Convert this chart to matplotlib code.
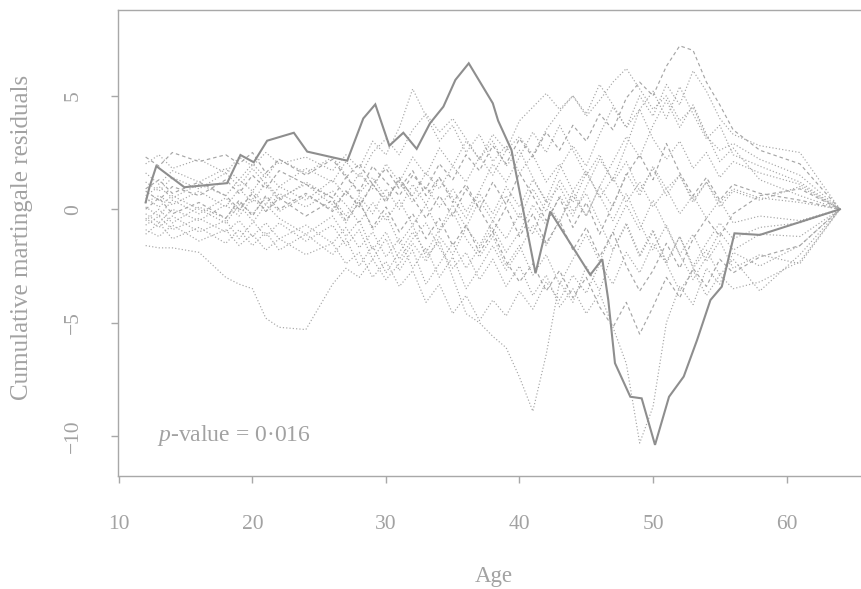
import matplotlib
matplotlib.use("Agg")
import matplotlib.pyplot as plt

plt.rcParams['font.family'] = ['Liberation Serif', 'DejaVu Serif']
plt.rcParams['mathtext.fontset'] = 'custom'
plt.rcParams['mathtext.rm'] = 'Liberation Serif'
plt.rcParams['mathtext.it'] = 'Liberation Serif:italic'

# ---------------- data ----------------
# observed cumulative martingale residual process
obs_age = [12.0, 12.3, 12.8, 14.9, 18.1, 19.1, 20.1, 21.1, 23.1, 24.1, 27.1, 28.3, 29.2,
           30.25, 31.3, 32.3, 33.3, 34.3, 35.2, 36.2, 38.0, 38.4, 39.4, 41.2, 42.3, 45.3,
           46.2, 46.65, 47.15, 48.3, 49.15, 50.15, 51.2, 52.3, 53.3, 54.3, 55.15, 56.1,
           58.0, 64.0]
obs_res = [0.3, 1.0, 1.9, 0.97, 1.15, 2.39, 2.07, 3.02, 3.37, 2.54, 2.14, 4.0, 4.62,
           2.80, 3.37, 2.66, 3.79, 4.52, 5.70, 6.43, 4.67, 3.90, 2.61, -2.82, -0.1, -2.89,
           -2.20, -4.0, -6.78, -8.26, -8.33, -10.38, -8.26, -7.37, -5.76, -4.0, -3.41, -1.06,
           -1.13, 0.0]

# ages at which the simulated processes are shown
sim_age = [12, 13, 14, 16, 18, 19, 20, 21, 22, 24, 26, 27, 28, 29, 30, 31, 32, 33, 34, 35,
           36, 37, 38, 39, 40, 41, 42, 43, 44, 45, 46, 47, 48, 49, 50, 51, 52, 53, 54, 55,
           56, 58, 61, 64]

sim_a = [-1.6, -1.7, -1.7, -1.9, -3.0, -3.3, -3.5, -4.8, -5.2, -5.3, -3.3, -2.6, -3.0, -2.2,
         -3.1, -2.4, -1.5, -2.3, -1.2, -2.0, -0.8, -1.6, -0.5, -1.3, -0.2, -1.1, 0.4, -0.6,
         0.8, -0.3, 1.0, 0.1, 1.6, 0.6, 1.9, 0.9, 1.5, 0.4, 1.2, 0.3, 0.9, 0.5, 0.3, 0.0]
sim_b = [0.3, 0.6, 0.2, 0.8, 0.1, 0.9, 0.3, 1.2, 0.5, 1.1, 0.2, -0.6, 0.4, -0.9, -0.2, -1.5,
         -0.7, -2.1, -1.4, -3.0, -4.6, -5.0, -5.6, -6.1, -7.4, -8.9, -6.4, -3.2, -4.1, -2.5,
         -3.6, -1.8, -0.6, -2.0, -0.9, -2.4, -1.2, -2.6, -1.8, -2.9, -2.2, -3.6, -2.0, 0.0]
sim_c = [-0.4, -0.8, -0.3, -1.0, -0.5, -1.3, -0.6, 0.2, -0.4, -1.1, -0.3, -1.2, -0.5, -1.8,
         -1.0, -2.2, -1.3, -0.6, -1.7, -2.6, -1.9, -3.1, -2.2, -3.4, -2.5, -3.8, -2.9, -4.3,
         -3.5, -4.6, -3.7, -5.2, -6.8, -10.3, -8.7, -5.0, -3.4, -4.2, -2.6, -3.3, -1.9, -2.5,
         -1.6, 0.0]
sim_d = [0.8, 0.4, 1.0, 0.6, 1.3, 0.7, 1.5, 0.9, 1.7, 1.1, 0.5, 1.4, 0.8, 1.9, 1.2, 0.6, 1.5,
         0.9, 2.0, 1.3, 2.4, 1.7, 2.8, 2.0, 3.1, 2.3, 3.4, 2.6, 3.7, 3.0, 4.2, 3.5, 4.9, 5.6,
         5.0, 6.3, 7.2, 7.0, 5.6, 4.6, 3.5, 2.6, 2.0, 0.0]
sim_e = [2.0, 2.4, 1.8, 2.2, 1.6, 2.3, 1.9, 2.5, 2.0, 2.3, 1.7, 2.4, 1.8, 3.0, 2.4, 3.6, 5.3,
         4.1, 3.0, 3.7, 2.5, 3.3, 2.1, 2.8, 1.6, 2.4, 1.2, 2.0, 0.8, 1.7, 0.5, 1.4, 0.3, 1.2,
         0.1, 0.9, -0.2, 0.6, -0.4, 0.4, -0.6, -0.3, -0.5, 0.0]
sim_f = [0.1, -0.3, 0.4, -0.2, 0.5, -0.1, 0.8, 0.2, 1.0, 0.4, 1.3, 0.6, 1.6, 0.9, 2.0, 1.2,
         2.3, 1.5, 2.7, 1.9, 3.0, 2.2, 3.3, 2.6, 3.9, 4.5, 5.1, 4.4, 5.0, 4.1, 4.8, 5.6, 6.2,
         5.3, 4.4, 5.0, 3.9, 4.5, 3.2, 2.6, 2.9, 2.2, 1.5, 0.0]
sim_g = [-0.9, -1.2, -0.7, -1.4, -0.9, -1.6, -1.1, -1.8, -1.3, -2.0, -1.5, -2.4, -1.9, -3.0,
         -2.3, -3.4, -2.7, -4.1, -3.3, -4.6, -3.8, -4.9, -4.0, -4.7, -3.6, -4.4, -3.2, -4.0,
         -2.9, -3.7, -2.4, -3.3, -1.9, -2.8, -1.5, -2.4, -3.6, -2.7, -3.8, -2.9, -3.5, -3.2,
         -2.3, 0.0]
sim_h = [0.0, 0.5, -0.2, 0.3, -0.4, 0.4, -0.3, 0.6, 0.0, 0.7, -0.1, 0.8, 0.1, 1.1, 0.3, 1.4,
         0.5, -0.4, 0.6, -0.3, 0.9, 0.0, 1.2, 0.2, 1.6, 0.6, -0.5, 0.5, -0.8, 0.3, -1.1, 0.2,
         1.5, 2.4, 1.3, 2.9, 1.6, 0.6, 1.4, 0.4, 1.1, 0.7, 0.4, 0.0]
sim_i = [0.5, 0.1, 0.6, 0.0, -0.6, 0.2, -0.5, -1.2, -0.6, -1.4, -0.7, -1.6, -0.9, -2.2, -1.3,
         -2.7, -1.8, -3.3, -2.4, -1.5, -2.6, -1.7, -0.8, -1.9, -1.0, 0.2, -0.7, 0.6, -0.3, 1.0,
         2.2, 1.3, 2.8, 4.4, 5.2, 4.0, 5.4, 4.2, 3.1, 3.7, 2.4, 1.9, 1.2, 0.0]
sim_j = [1.2, 0.8, 1.4, 0.9, 1.6, 1.0, 1.8, 1.1, 0.4, 1.2, 0.5, -0.3, 0.6, -0.2, 0.9, 0.0,
         1.1, 0.2, 1.4, 0.5, -0.4, 0.7, -0.2, 1.0, 0.1, 1.3, 0.4, 1.8, 2.8, 1.9, 3.3, 4.5, 3.6,
         5.0, 4.1, 5.5, 4.6, 6.1, 5.2, 4.0, 3.3, 2.8, 2.5, 0.0]
sim_k = [-0.2, -0.6, 0.0, -0.5, 0.2, -0.3, 0.5, -0.1, 0.7, 0.1, 0.8, 0.2, -0.6, 0.3, -0.5,
         0.4, -0.7, 0.2, -1.0, -0.1, -1.3, -2.1, -1.2, -2.5, -1.6, -2.9, -2.0, -3.3, -2.2,
         -1.1, -2.3, -1.0, 0.2, -0.9, 0.4, -0.8, -2.0, -1.1, -2.3, -1.4, -2.6, -2.0, -2.4, 0.0]
sim_l = [2.3, 1.9, 2.5, 2.1, 2.4, 2.0, 2.5, 1.6, 2.2, 1.5, 2.2, 1.4, 2.0, 1.1, 1.8, 0.9, 1.7,
         0.6, 1.4, 0.3, 1.1, 0.0, -1.0, 0.1, -1.2, -0.2, -1.5, -0.5, -1.8, -0.8, -2.1, -1.0,
         -2.5, -3.6, -2.7, -1.5, -2.6, -1.3, -0.4, -1.2, -0.2, 0.6, 0.9, 0.0]
sim_m = [0.6, 1.0, 0.5, 1.1, 0.6, 1.3, 0.8, 1.6, 1.0, 1.8, 1.2, 2.1, 1.4, 2.5, 3.1, 2.4, 3.5,
         4.2, 3.4, 4.0, 3.1, 2.2, 3.0, 1.9, 2.6, 1.4, 0.3, 1.0, -0.1, 0.7, -0.6, -1.8, -0.7,
         -2.1, -1.0, -2.3, -1.2, -2.5, -1.5, -0.6, -1.3, -0.8, -0.6, 0.0]
sim_n = [-1.1, -0.6, -1.3, -0.8, -1.5, -0.9, -1.6, -1.0, -1.8, -1.1, -2.0, -1.3, -2.5, -1.6,
         -2.8, -1.9, -1.0, -1.9, -0.9, 0.2, -0.8, 0.4, -0.5, 0.6, -0.4, 0.9, -0.1, 1.3, 0.3,
         1.6, 0.6, -0.5, 0.7, -0.6, -1.8, -0.7, -2.0, -3.1, -2.1, -1.0, -1.8, -1.1, -1.2, 0.0]
sim_o = [-0.5, 0.0, -0.6, 0.1, -0.4, 0.3, -0.2, 0.5, -0.1, 0.6, 0.0, 0.8, 0.2, 1.1, 0.4, 1.3,
         0.6, 1.6, 0.9, 1.9, 1.2, 2.3, 1.5, 2.6, 3.2, 2.4, 3.5, 4.3, 5.0, 4.2, 5.5, 4.6, 3.6,
         4.4, 3.1, 2.2, 3.0, 1.8, 2.5, 1.4, 2.1, 1.6, 1.1, 0.0]
sim_p = [0.9, 1.3, 0.7, 1.2, 0.6, 0.0, 0.7, -0.1, 0.5, -0.3, 0.4, -0.5, 0.3, -0.8, 0.1, -1.0,
         -0.2, -1.3, -0.4, -1.6, -0.7, -1.9, -1.0, -2.3, -3.2, -2.4, -3.6, -2.7, -3.9, -3.0,
         -4.3, -5.2, -4.1, -5.5, -4.3, -3.0, -3.9, -2.6, -3.4, -2.2, -2.8, -2.1, -1.6, 0.0]
sim_q = [1.6, 1.1, 1.7, 1.2, 1.8, 1.3, 2.0, 1.4, 2.2, 1.6, 2.3, 1.5, 0.7, 1.4, 0.5, 1.2, 0.3,
         1.0, 0.1, 0.9, -0.1, 0.8, 2.0, 1.2, 2.3, 3.4, 2.5, 3.7, 2.6, 1.5, 2.4, 1.2, 2.1, 0.8,
         1.8, 0.6, 1.5, 0.3, 1.2, 0.1, 0.8, 0.4, 1.0, 0.0]
sim_r = [-0.7, -0.3, -0.9, -0.4, -1.0, -0.5, -1.2, -0.6, -1.3, -0.7, -1.5, -0.8, -1.7, -1.0,
         -2.1, -1.3, -2.6, -1.7, -3.0, -2.1, -3.5, -2.6, -1.6, -2.7, -1.8, -0.7, -1.6, -0.5,
         0.6, -0.3, 1.0, 2.1, 3.2, 2.3, 3.7, 4.8, 3.6, 4.6, 3.3, 2.1, 2.7, 1.3, 0.6, 0.0]

sim_paths = [sim_a, sim_b, sim_c, sim_d, sim_e, sim_f, sim_g, sim_h, sim_i,
             sim_j, sim_k, sim_l, sim_m, sim_n, sim_o, sim_p, sim_q, sim_r]

x_ticks = [10, 20, 30, 40, 50, 60]
y_ticks = [-10, -5, 0, 5]
p_text = "$p$-value = 0·016"

# ---------------- style ----------------
TXT = '#a2a2a2'
AXC = '#a8a8a8'
SIM = '#a6a6a6'
OBS = '#8e8e8e'

fig = plt.figure(figsize=(8.61, 5.89), dpi=100)
ax = fig.add_axes([0.1369, 0.1919, 0.8709, 0.7912])

for i, path in enumerate(sim_paths):
    ls = (0, (3, 2.5)) if i % 4 == 3 else (0, (1, 1.8))
    ax.plot(sim_age, path, color=SIM, lw=0.85, linestyle=ls)

ax.plot(obs_age, obs_res, color=OBS, lw=1.5, solid_joinstyle='miter')

ax.set_xlim(9.92, 66.08)
ax.set_ylim(-11.75, 8.78)
ax.set_xticks(x_ticks)
ax.set_yticks(y_ticks)

for s in ax.spines.values():
    s.set_color(AXC)
    s.set_linewidth(1.0)

ax.tick_params(axis='both', colors=AXC, length=5, width=1.0, direction='out',
               labelcolor=TXT, labelsize=15.5)
ax.tick_params(axis='x', pad=23)
ax.tick_params(axis='y', pad=20, labelrotation=90)
for lab in ax.get_yticklabels():
    lab.set_va('center')

ax.set_xlabel('Age', fontsize=16.5, color=TXT)
ax.xaxis.set_label_coords(0.5016, -0.2167)
ax.xaxis.label.set_va('center')
ax.set_ylabel('Cumulative martingale residuals', fontsize=18, color=TXT)
ax.yaxis.set_label_coords(-0.1279, 0.5118)
ax.yaxis.label.set_va('center')

ax.text(12.85, -9.95, p_text, fontsize=17, color=TXT, ha='left', va='center')

fig.savefig('out.png', dpi=100)
